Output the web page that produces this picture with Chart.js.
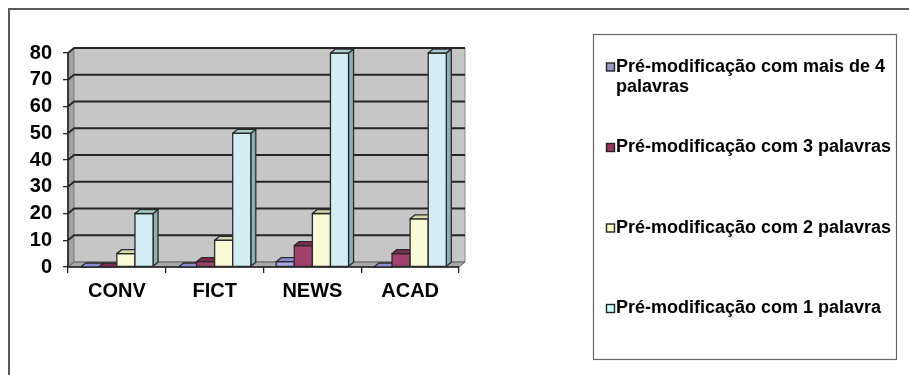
<!DOCTYPE html>
<html>
<head>
<meta charset="utf-8">
<script src="https://cdn.jsdelivr.net/npm/chart.js@4.4.0/dist/chart.umd.min.js"></script>
<style>
  html, body { margin: 0; padding: 0; background: #fff; }
  #wrap { width: 909px; height: 375px; position: relative; }
</style>
</head>
<body>
<div id="wrap"><canvas id="c" width="909" height="375"></canvas></div>
<script>
// Categories (corpus registers) and the four pre-modification series
const categories = ['CONV', 'FICT', 'NEWS', 'ACAD'];
const seriesNames = [
  'Pré-modificação com mais de 4 palavras',
  'Pré-modificação com 3 palavras',
  'Pré-modificação com 2 palavras',
  'Pré-modificação com 1 palavra'
];
const moreThanFour = [0, 0, 2, 0];
const threeWords   = [0, 2, 8, 5];
const twoWords     = [5, 10, 20, 18];
const oneWord      = [20, 50, 80, 80];
const yTickValues  = [0, 10, 20, 30, 40, 50, 60, 70, 80];

// Face shades for each series: front, top, side
const faces = [
  { front: '#A8A8E4', top: '#8C8CD6', side: '#7676BE' },
  { front: '#A2416D', top: '#7C2A4F', side: '#6A2343' },
  { front: '#FAFAD6', top: '#D8D8AE', side: '#C4C49C' },
  { front: '#D4EDF2', top: '#A8CFD4', side: '#89B2B6' }
];
const seriesValues = [moreThanFour, threeWords, twoWords, oneWord];

const FONT = "'Liberation Sans', Arial, sans-serif";
const WALL_DX = 6, WALL_DY = -5;   // depth of the walls/floor
const BAR_DX = 5, BAR_DY = -4;     // depth of each column

function poly(ctx, pts, fill, stroke, lw) {
  ctx.beginPath();
  ctx.moveTo(pts[0][0], pts[0][1]);
  for (let i = 1; i < pts.length; i++) ctx.lineTo(pts[i][0], pts[i][1]);
  ctx.closePath();
  if (fill) { ctx.fillStyle = fill; ctx.fill(); }
  if (stroke) { ctx.strokeStyle = stroke; ctx.lineWidth = lw || 1; ctx.stroke(); }
}

const depth3d = {
  id: 'depth3d',
  beforeDraw(chart) {
    const ctx = chart.ctx;
    ctx.save();
    ctx.fillStyle = '#fff';
    ctx.fillRect(0, 0, chart.width, chart.height);
    // outer frame (top and left edges)
    ctx.strokeStyle = '#5a5a5a';
    ctx.lineWidth = 2;
    ctx.beginPath();
    ctx.moveTo(9, chart.height);
    ctx.lineTo(9, 9);
    ctx.lineTo(chart.width, 9);
    ctx.stroke();
    ctx.restore();
  },
  beforeDatasetsDraw(chart) {
    const ctx = chart.ctx;
    const a = chart.chartArea;
    const ys = chart.scales.y;
    const L = a.left, R = a.right;
    const T = ys.getPixelForValue(ys.max), B = ys.getPixelForValue(ys.min);
    ctx.save();
    ctx.lineJoin = 'round';
    // side wall
    poly(ctx, [[L, T], [L + WALL_DX, T + WALL_DY], [L + WALL_DX, B + WALL_DY], [L, B]], '#A2A2A2', '#6e6e6e', 1);
    // back wall
    poly(ctx, [[L + WALL_DX, T + WALL_DY], [R + WALL_DX, T + WALL_DY], [R + WALL_DX, B + WALL_DY], [L + WALL_DX, B + WALL_DY]], '#C6C6C6', '#8a8a8a', 1);
    // gridlines on side and back walls
    ctx.strokeStyle = '#242424';
    ctx.lineWidth = 1.8;
    ys.ticks.forEach(t => {
      if (t.value === ys.min) return;
      const py = ys.getPixelForValue(t.value);
      ctx.beginPath();
      ctx.moveTo(L, py);
      ctx.lineTo(L + WALL_DX, py + WALL_DY);
      ctx.lineTo(R + WALL_DX, py + WALL_DY);
      ctx.stroke();
    });
    // floor
    poly(ctx, [[L, B], [R, B], [R + WALL_DX, B + WALL_DY], [L + WALL_DX, B + WALL_DY]], '#A8A8A8', '#5e5e5e', 1);
    // front axis lines
    ctx.strokeStyle = '#222';
    ctx.lineWidth = 1.6;
    ctx.beginPath();
    ctx.moveTo(L, T);
    ctx.lineTo(L, B);
    ctx.lineTo(R, B);
    ctx.stroke();

    // columns, left to right within each group
    chart.data.datasets.forEach((ds, di) => {
      const meta = chart.getDatasetMeta(di);
      const f = faces[di];
      meta.data.forEach(el => {
        const p = el.getProps(['x', 'y', 'base', 'width'], true);
        const x0 = p.x - p.width / 2, x1 = p.x + p.width / 2;
        const top = Math.min(p.y, p.base), base = Math.max(p.y, p.base);
        // side face
        poly(ctx, [[x1, top], [x1 + BAR_DX, top + BAR_DY], [x1 + BAR_DX, base + BAR_DY], [x1, base]], f.side, '#2a2a2a', 1.3);
        // front face
        if (base - top > 0.5) poly(ctx, [[x0, top], [x1, top], [x1, base], [x0, base]], f.front, '#2a2a2a', 1.3);
        // top face
        poly(ctx, [[x0, top], [x1, top], [x1 + BAR_DX, top + BAR_DY], [x0 + BAR_DX, top + BAR_DY]], f.top, '#2a2a2a', 1.3);
      });
    });
    ctx.restore();
    return false;
  },
  afterDraw(chart) {
    // legend panel
    const ctx = chart.ctx;
    ctx.save();
    ctx.strokeStyle = '#666';
    ctx.lineWidth = 1.2;
    ctx.strokeRect(593.5, 34.5, 303, 325);
    ctx.font = 'bold 18px ' + FONT;
    ctx.textBaseline = 'middle';
    ctx.textAlign = 'left';
    ctx.fillStyle = '#000';
    const textX = 616, maxW = 280, lineH = 20, firstY = 67, step = 80.5;
    chart.data.datasets.forEach((ds, i) => {
      const y0 = firstY + i * step;
      // marker square
      ctx.fillStyle = ds.backgroundColor;
      ctx.fillRect(606.5, y0 - 4, 8, 8);
      ctx.strokeStyle = '#222';
      ctx.lineWidth = 1.4;
      ctx.strokeRect(606.5, y0 - 4, 8, 8);
      // wrapped label
      ctx.fillStyle = '#000';
      const words = ds.label.split(' ');
      let line = '', ly = y0;
      words.forEach(w => {
        const test = line ? line + ' ' + w : w;
        if (ctx.measureText(test).width > maxW && line) {
          ctx.fillText(line, textX, ly);
          line = w;
          ly += lineH;
        } else {
          line = test;
        }
      });
      ctx.fillText(line, textX, ly);
    });
    ctx.restore();
  }
};

const legendColors = ['#9999CC', '#993366', '#FFFFCC', '#CCFFFF'];

new Chart(document.getElementById('c'), {
  type: 'bar',
  data: {
    labels: categories,
    datasets: seriesValues.map((vals, i) => ({
      label: seriesNames[i],
      data: vals,
      backgroundColor: legendColors[i],
      categoryPercentage: 0.74,
      barPercentage: 1.0
    }))
  },
  options: {
    responsive: false,
    animation: false,
    devicePixelRatio: 1,
    layout: { padding: { left: 0, right: 450, top: 53, bottom: 0 } },
    plugins: { legend: { display: false }, tooltip: { enabled: false } },
    scales: {
      x: {
        grid: { display: true, drawOnChartArea: false, drawTicks: true, tickLength: 6, color: '#222', lineWidth: 1.3, offset: true },
        border: { display: false },
        ticks: { color: '#000', font: { family: FONT, size: 20, weight: 'bold' }, padding: 6, maxRotation: 0, autoSkip: false },
        afterFit(s) { s.height = 108; }
      },
      y: {
        min: 0,
        max: 80,
        afterBuildTicks(s) { s.ticks = yTickValues.map(v => ({ value: v })); },
        grid: { display: true, drawOnChartArea: false, drawTicks: true, tickLength: 5, color: '#222', lineWidth: 1.3 },
        border: { display: false },
        ticks: { color: '#000', font: { family: FONT, size: 20, weight: 'bold' }, padding: 11, autoSkip: false },
        afterFit(s) { s.width = 68; }
      }
    }
  },
  plugins: [depth3d]
});
</script>
</body>
</html>
